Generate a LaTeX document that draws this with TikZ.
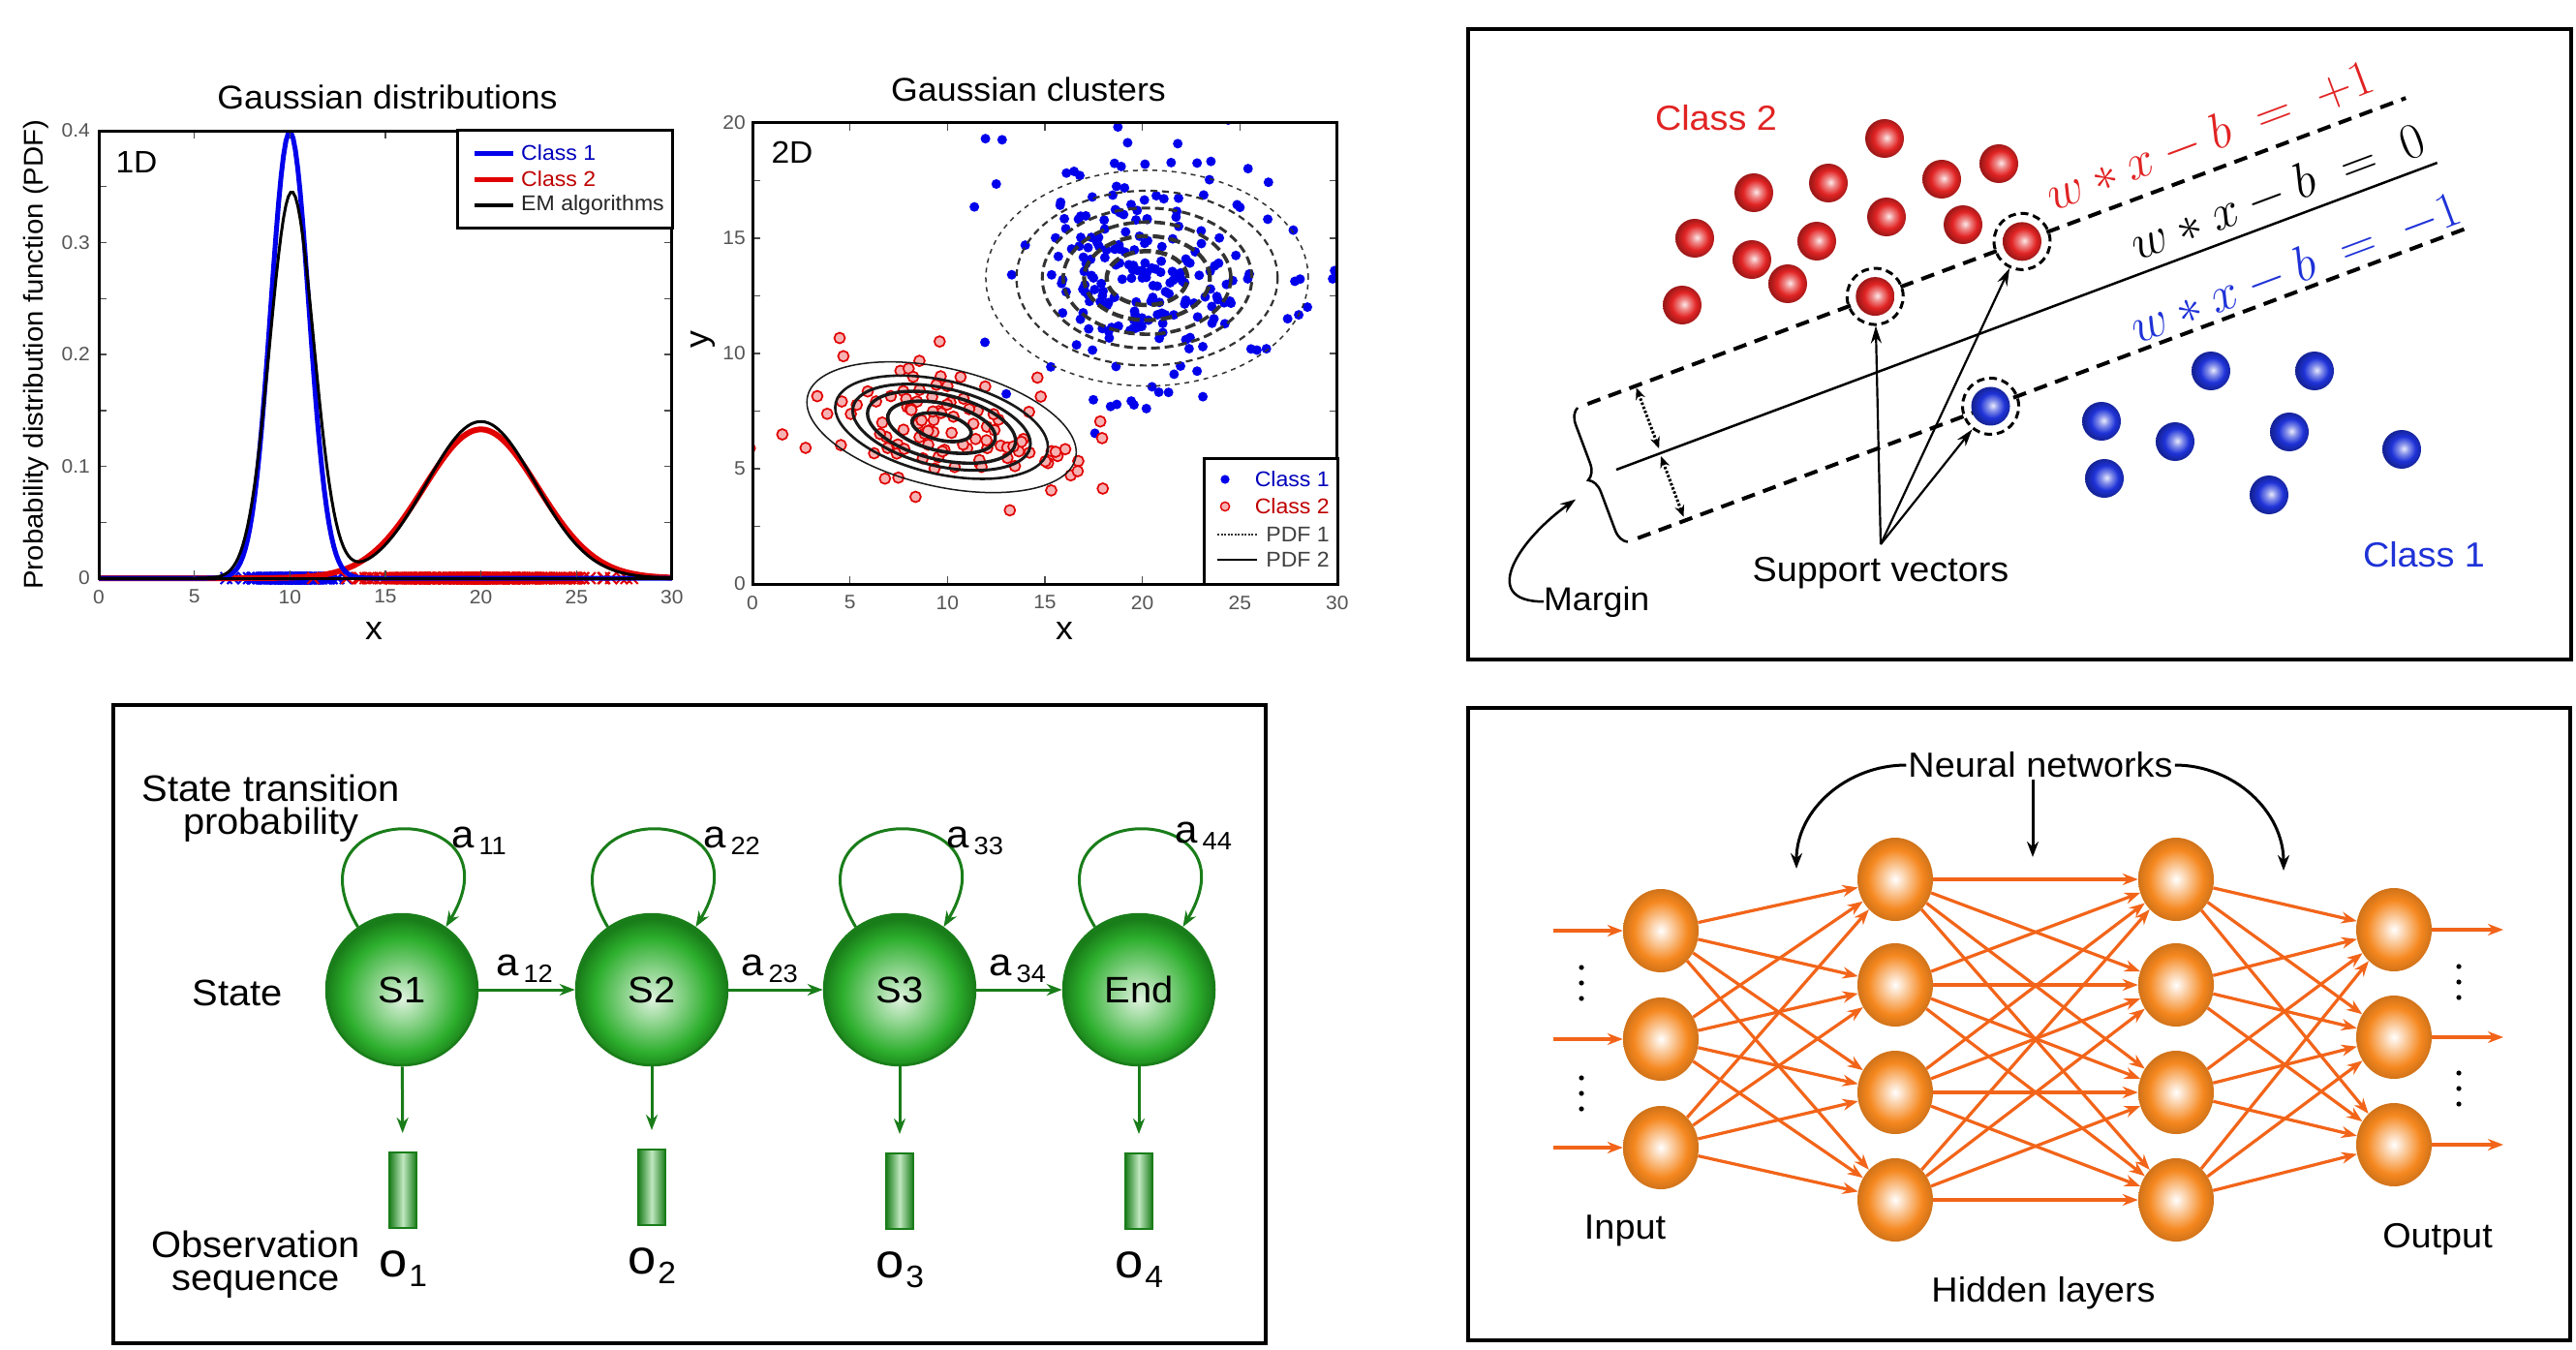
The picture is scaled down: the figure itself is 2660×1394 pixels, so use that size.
\RequirePackage{fix-cm}
\documentclass[tikz,border=0pt]{standalone}
\usepackage[no-math]{fontspec}
\setmainfont[FakeStretch=1.05]{Liberation Sans}
\usetikzlibrary{positioning,arrows.meta,shapes.geometric,decorations.pathreplacing}

\newcommand{\setfs}[1]{\fontsize{#1}{#1}\selectfont}
\newcommand{\hmmsub}[2]{#1\kern5pt\raisebox{-7pt}{\setfs{26}#2}}

\definecolor{plotblue}{RGB}{0,0,235}
\definecolor{plotred}{RGB}{225,0,0}
\definecolor{classred}{RGB}{225,35,35}
\definecolor{classblue}{RGB}{30,50,215}
\definecolor{statgreen}{RGB}{45,175,45}
\definecolor{statdark}{RGB}{25,125,25}
\definecolor{netorange}{RGB}{245,135,30}
\definecolor{netline}{RGB}{242,100,25}
\definecolor{ticktext}{RGB}{85,85,85}

\pgfdeclareradialshading{stateshade}{\pgfpoint{0bp}{-3bp}}{color(0bp)=(white!85!statgreen); color(9bp)=(statgreen!55!white); color(19bp)=(statgreen); color(25bp)=(statdark); color(50bp)=(statdark)}
\pgfdeclareradialshading{redshade}{\pgfpoint{3bp}{1bp}}{color(0bp)=(white!90!classred); color(7bp)=(classred!55!white); color(16bp)=(classred); color(25bp)=(classred!70!black); color(50bp)=(classred!70!black)}
\pgfdeclareradialshading{blueshade}{\pgfpoint{3bp}{1bp}}{color(0bp)=(white!90!classblue); color(7bp)=(classblue!55!white); color(16bp)=(classblue); color(25bp)=(classblue!70!black); color(50bp)=(classblue!70!black)}
\pgfdeclareradialshading{neuronshade}{\pgfpoint{0bp}{0bp}}{color(0bp)=(white); color(8bp)=(netorange!45!white); color(18bp)=(netorange); color(25bp)=(netorange!85!black); color(50bp)=(netorange!85!black)}

\tikzset{
  panelbox/.style={draw=black, line width=4.5pt},
  plotframe/.style={draw=black, line width=3pt},
  tickmark/.style={draw=black!70, line width=1.5pt},
  ticklab/.style={text=ticktext, font=\setfs{20}, inner sep=0pt},
  axlab/.style={font=\setfs{34}, inner sep=0pt},
  legtext/.style={font=\setfs{22}, inner sep=0pt},
  % svm
  svball/.style={circle, minimum size=40pt, inner sep=0pt},
  redball/.style={svball, shading=redshade},
  blueball/.style={svball, shading=blueshade},
  svring/.style={circle, draw=black, minimum size=58pt, inner sep=0pt, line width=3pt, dash pattern=on 8pt off 5pt},
  svmtext/.style={font=\setfs{36}, inner sep=0pt},
  svmeq/.style={font=\setfs{52}, inner sep=0pt, rotate=20.5, anchor=base},
  svmdash/.style={line width=4pt, dash pattern=on 14pt off 9pt},
  dotarrow/.style={line width=3pt, dash pattern=on 2.5pt off 2pt, {Stealth[length=12pt,width=10pt]}-{Stealth[length=12pt,width=10pt]}},
  svarrow/.style={line width=2.2pt, -{Stealth[length=18pt,width=11pt]}},
  % hmm
  state/.style={circle, minimum size=156pt, inner sep=0pt, shading=stateshade, draw=statdark, line width=2.5pt, font=\setfs{38}},
  obsbox/.style={rectangle, minimum width=28pt, minimum height=78pt, inner sep=0pt, draw=statdark, line width=2pt, left color=statdark, right color=statdark, middle color=statgreen!30!white},
  hmmedge/.style={draw=statdark, line width=3pt, -{Stealth[length=16pt,width=12pt]}},
  hmmlab/.style={font=\setfs{40}, inner sep=0pt, anchor=base west},
  hmmtext/.style={font=\fontsize{38}{34}\selectfont, inner sep=0pt, align=center},
  obslabel/.style={font=\setfs{50}, inner sep=0pt},
  % neural net
  neuron/.style={ellipse, minimum width=78pt, minimum height=86pt, inner sep=0pt, shading=neuronshade},
  nnedge/.style={draw=netline, line width=3.2pt, -{Stealth[length=16pt,width=12pt]}},
  nntext/.style={font=\setfs{36}, inner sep=2pt},
  bentarrow/.style={draw=black, line width=3pt, -{Stealth[length=16pt,width=12pt]}}
}

\begin{document}
\begin{tikzpicture}[x=1pt, y=1pt]
    \fill[white] (0,0) rectangle (2660,-1394);
    \useasboundingbox (0,0) rectangle (2660,-1394);

    % 1D Gaussian plot
    \node[axlab, anchor=base] (title1) at (400,-113) {Gaussian distributions};
    \node[font=\setfs{28}, inner sep=0pt, rotate=90] (ylab1) at (37,-366) {Probability distribution function (PDF)};
    \node[axlab] (xlab1) at (386,-652) {x};
    \begin{scope}[shift={(102,-597)}, x=19.73pt, y=1155pt]
        \pgfmathsetseed{42}
        \begin{scope}
            \clip (0,-0.05) rectangle (30,0.4);
            \foreach \k in {1,...,130} {
                \pgfmathsetmacro\gx{10+1.1*sqrt(-2*ln(max(rnd,0.003)))*cos(360*rnd)}
                \draw[plotblue, line width=2pt] (\gx,0) ++(-6pt,-6pt) -- ++(12pt,12pt) ++(-12pt,0pt) -- ++(12pt,-12pt);
            }
            \foreach \k in {1,...,260} {
                \pgfmathsetmacro\gx{20+2.8*sqrt(-2*ln(max(rnd,0.003)))*cos(360*rnd)}
                \draw[plotred, line width=2pt] (\gx,0) ++(-6pt,-6pt) -- ++(12pt,12pt) ++(-12pt,0pt) -- ++(12pt,-12pt);
            }
            \draw[plotred, line width=6pt] plot[domain=0:30, samples=200] (\x,{0.133*exp(max(-30,-((\x-20)*(\x-20))/18))});
            \draw[plotblue, line width=5pt] plot[domain=0:30, samples=240] (\x,{0.399*exp(max(-30,-((\x-10)*(\x-10))/2))});
            \draw[black, line width=3pt] plot[domain=0:30, samples=240] (\x,{0.345*exp(max(-30,-((\x-10.1)*(\x-10.1))/2.67))+0.14*exp(max(-30,-((\x-20)*(\x-20))/16.2))});
        \end{scope}
        \foreach \xx in {0,5,...,30} {
            \draw[tickmark] (\xx,0) -- ++(0,8pt);
            \draw[tickmark] (\xx,0.4) -- ++(0,-8pt);
            \node[ticklab, anchor=north, yshift=-12pt] at (\xx,0) {\xx};
        }
        \foreach \yy in {0.05,0.1,0.15,0.2,0.25,0.3,0.35} {
            \draw[tickmark] (0,\yy) -- ++(8pt,0);
            \draw[tickmark] (30,\yy) -- ++(-8pt,0);
        }
        \foreach \yy in {0,0.1,0.2,0.3,0.4}
            \node[ticklab, anchor=east, xshift=-9pt] at (0,\yy) {\yy};
        \draw[plotframe] (0,0) rectangle (30,0.4);
    \end{scope}
    \node[font=\setfs{32}, inner sep=0pt] (tag1) at (141,-167) {1D};
    % legend 1D
    \draw[plotframe, fill=white] (472,-135) rectangle (694,-235);
    \draw[plotblue, line width=5pt] (490,-158) -- (530,-158);
    \draw[plotred, line width=5pt] (490,-185) -- (530,-185);
    \draw[black, line width=3.5pt] (490,-212) -- (530,-212);
    \node[legtext, anchor=west, text=plotblue!80!black] (leg11) at (538,-158) {Class 1};
    \node[legtext, anchor=west, text=plotred!85!black] (leg12) at (538,-185) {Class 2};
    \node[legtext, anchor=west, text=black!85] (leg13) at (538,-212) {EM algorithms};

    % 2D Gaussian clusters
    \node[axlab, anchor=base] (title2) at (1062,-105) {Gaussian clusters};
    \node[axlab, rotate=90] (ylab2) at (726,-351) {y};
    \node[axlab] (xlab2) at (1099,-652) {x};
    \begin{scope}[shift={(777,-603)}, x=20.13pt, y=23.8pt]
        \begin{scope}
            \clip (0,0) rectangle (30,20);
            \foreach \k in {1,...,230} {
                \pgfmathsetmacro\rr{sqrt(-2*ln(max(rnd,0.003)))}
                \pgfmathsetmacro\aa{360*rnd}
                \fill[plotblue] ({20.2+3.3*\rr*cos(\aa)},{13.3+2.6*\rr*sin(\aa)}) circle[radius=5pt];
            }
            \foreach \k in {1,...,110} {
                \pgfmathsetmacro\rr{sqrt(-2*ln(max(rnd,0.003)))}
                \pgfmathsetmacro\aa{360*rnd}
                \pgfmathsetmacro\du{74*\rr*cos(\aa)}
                \pgfmathsetmacro\dv{36*\rr*sin(\aa)}
                \pgfmathsetmacro\qx{9.7+(\du*cos(-13)-\dv*sin(-13))/20.13}
                \pgfmathsetmacro\qy{6.8+(\du*sin(-13)+\dv*cos(-13))/23.8}
                \draw[plotred, fill=plotred!30, line width=1.7pt] (\qx,\qy) circle[radius=5.5pt];
            }
            \foreach \f/\w/\d in {1/1.5/5, 0.81/2.2/7, 0.65/3/9, 0.52/3.6/11, 0.39/4.2/12, 0.25/4.5/12} {
                \pgfmathsetmacro\rx{8.27*\f}
                \pgfmathsetmacro\ry{4.68*\f}
                \draw[black!80, line width=\w pt, dash pattern=on \d pt off 5pt] (20.24,13.27) ellipse [x radius=\rx, y radius=\ry];
            }
            \foreach \f/\w in {1/1.5, 0.79/2.6, 0.66/3, 0.55/3.4, 0.40/3.6, 0.22/3.6} {
                \pgfmathsetmacro\rx{142*\f}
                \pgfmathsetmacro\ry{61*\f}
                \draw[black!90, line width=\w pt, rotate around={-13:(9.7,6.8)}] (9.7,6.8) ellipse [x radius=\rx pt, y radius=\ry pt];
            }
        \end{scope}
        \foreach \xx in {0,5,...,30} {
            \draw[tickmark] (\xx,0) -- ++(0,8pt);
            \draw[tickmark] (\xx,20) -- ++(0,-8pt);
            \node[ticklab, anchor=north, yshift=-12pt] at (\xx,0) {\xx};
        }
        \foreach \yy in {2.5,5,...,17.5} {
            \draw[tickmark] (0,\yy) -- ++(8pt,0);
            \draw[tickmark] (30,\yy) -- ++(-8pt,0);
        }
        \foreach \yy in {0,5,...,20}
            \node[ticklab, anchor=east, xshift=-7pt] at (0,\yy) {\yy};
        \draw[plotframe] (0,0) rectangle (30,20);
    \end{scope}
    \node[font=\setfs{32}, inner sep=0pt] (tag2) at (818,-157) {2D};
    % legend 2D
    \draw[plotframe, fill=white] (1243,-473) rectangle (1381,-603);
    \fill[plotblue] (1265,-495) circle[radius=4.6pt];
    \draw[plotred, fill=plotred!30, line width=1.4pt] (1265,-523) circle[radius=4.6pt];
    \draw[black!80, line width=1.5pt, dash pattern=on 2pt off 1.5pt] (1257,-552) -- (1298,-552);
    \draw[black, line width=2.5pt] (1257,-578) -- (1298,-578);
    \node[legtext, anchor=east, text=plotblue!80!black] (leg21) at (1373,-495) {Class 1};
    \node[legtext, anchor=east, text=plotred!85!black] (leg22) at (1373,-523) {Class 2};
    \node[legtext, anchor=east, text=black!75] (leg23) at (1373,-552) {PDF 1};
    \node[legtext, anchor=east, text=black!75] (leg24) at (1373,-578) {PDF 2};

    % SVM panel
    \draw[panelbox] (1516,-30) rectangle (2655,-681);
    \foreach \p [count=\i] in {(1946,-143), (2064,-169), (1888,-189), (2005,-185), (1811,-199), (1948,-224), (2027,-232), (1750,-246), (1876,-249), (1809,-268), (1846,-293), (1737,-315)}
        \node[redball] (r\i) at \p {};
    \foreach \p [count=\i] in {(2283,-383), (2390,-383), (2170,-435), (2246,-456), (2364,-446), (2480,-464), (2173,-494), (2343,-511)}
        \node[blueball] (b\i) at \p {};
    \begin{scope}[shift={(1669,-485)}, rotate=20.5]
        % separating line and margins
        \draw[line width=2.5pt] (0,0) -- (905,0);
        \draw[svmdash] (-4,74) -- (898,74);
        \draw[svmdash] (-4,-74) -- (907,-74);
        \draw[decorate, decoration={brace, amplitude=16pt}, line width=2.5pt] (-15,-74) -- (-15,74);
        \coordinate (margintip) at (-50,-14);
        \draw[dotarrow] (49,72) -- (49,5);
        \draw[dotarrow] (48,-3) -- (48,-70);
        % support vectors
        \node[redball] (sv1) at (313,74) {};
        \node[redball] (sv2) at (475,74) {};
        \node[blueball] (sv3) at (385,-74) {};
        \node[svmeq, text=classred] (eqplus) at (695,92) {$w*x-b \;=\; {+}1$};
        \node[svmeq, text=black] (eqzero) at (740,13) {$w*x-b \;=\; 0$};
        \node[svmeq, text=classblue] (eqminus) at (730,-67) {$w*x-b \;=\; {-}1$};
    \end{scope}
    \node[svring] (ring1) at (sv1) {};
    \node[svring] (ring2) at (sv2) {};
    \node[svring] (ring3) at (sv3) {};
    \node[svmtext, text=classred] (class2) at (1772,-122) {Class 2};
    \node[svmtext, text=classblue] (class1) at (2503,-573) {Class 1};
    \node[svmtext, anchor=base] (svtext) at (1942,-600) {Support vectors};
    \coordinate (svtip) at (1942,-562);
    \draw[svarrow] (svtip) -- (ring1);
    \draw[svarrow] (svtip) -- (ring2);
    \draw[svarrow] (svtip) -- (ring3);
    \node[svmtext, font=\setfs{34}, anchor=base west] (margin) at (1594,-630) {Margin};
    \draw[line width=2.5pt, -{Stealth[length=16pt,width=11pt]}] (margin.west) to[out=180, in=215, looseness=1.6] (margintip);

    % Hidden Markov model
    \draw[panelbox] (117,-728) rectangle (1307,-1387);
    \node[state] (s1) at (415,-1022) {S1};
    \node[state] (s2) at (673,-1022) {S2};
    \node[state] (s3) at (929,-1022) {S3};
    \node[state] (s4) at (1176,-1022) {End};
    \foreach \i/\x/\yo in {1/416/1229, 2/673/1226, 3/929/1230, 4/1176/1230}
        \node[obsbox] (o\i) at (\x,-\yo) {};
    \foreach \i in {1,...,4} {
        \draw[hmmedge] (s\i.125) .. controls +(121:156) and +(59:156) .. (s\i.55);
        \draw[hmmedge, shorten >=19pt] (s\i) -- (o\i);
        \node[obslabel, below=22pt of o\i] (ol\i) {o\kern2pt\raisebox{-10pt}{\setfs{32}\i}};
    }
    \draw[hmmedge] (s1) -- (s2);
    \draw[hmmedge] (s2) -- (s3);
    \draw[hmmedge] (s3) -- (s4);
    \node[hmmlab] (a11) at (466,-875) {\hmmsub{a}{11}};
    \node[hmmlab] (a22) at (726,-875) {\hmmsub{a}{22}};
    \node[hmmlab] (a33) at (977,-875) {\hmmsub{a}{33}};
    \node[hmmlab] (a44) at (1213,-870) {\hmmsub{a}{44}};
    \node[hmmlab] (a12) at (512,-1007) {\hmmsub{a}{12}};
    \node[hmmlab] (a23) at (765,-1007) {\hmmsub{a}{23}};
    \node[hmmlab] (a34) at (1021,-1007) {\hmmsub{a}{34}};
    \node[hmmtext] (stp) at (280,-835) {State transition\\probability};
    \node[hmmtext] (statelab) at (245,-1025) {State};
    \node[hmmtext] (obslab) at (264,-1306) {Observation\\sequence};

    % Neural network
    \draw[panelbox] (1516,-731) rectangle (2654,-1384);
    \foreach \i/\y in {1/961, 2/1073, 3/1185} {
        \node[neuron] (in\i) at (1715,-\y) {};
        \coordinate (inl\i) at (1604,-\y);
    }
    \foreach \i/\y in {1/908, 2/1017, 3/1128, 4/1239} {
        \node[neuron] (ha\i) at (1957,-\y) {};
        \node[neuron] (hb\i) at (2247,-\y) {};
    }
    \foreach \i/\y in {1/960, 2/1071, 3/1182} {
        \node[neuron] (out\i) at (2472,-\y) {};
        \coordinate (outr\i) at (2585,-\y);
    }
    \foreach \i in {1,2,3} {
        \draw[nnedge] (inl\i) -- (in\i);
        \draw[nnedge] (out\i) -- (outr\i);
        \foreach \j in {1,...,4} {
            \draw[nnedge] (in\i) -- (ha\j);
            \draw[nnedge] (hb\j) -- (out\i);
        }
    }
    \foreach \i in {1,...,4}
        \foreach \j in {1,...,4}
            \draw[nnedge] (ha\i) -- (hb\j);
    % vertical dots
    \foreach \x/\y in {1633/1015, 1633/1129, 2539/1014, 2539/1124}
        \foreach \d in {-16,0,16}
            \fill (\x,-\y+\d) circle[radius=2.6pt];
    \node[nntext] (nntitle) at (2107,-790) {Neural networks};
    \coordinate (nnl) at (1855,-897);
    \coordinate (nnm) at (2099,-885);
    \coordinate (nnr) at (2358,-899);
    \draw[bentarrow] (nntitle.west) to[out=180, in=90] (nnl);
    \draw[bentarrow] (nntitle.south -| nnm) -- (nnm);
    \draw[bentarrow] (nntitle.east) to[out=0, in=90] (nnr);
    \node[nntext] (inputlab) at (1678,-1271) {Input};
    \node[nntext] (outputlab) at (2517,-1280) {Output};
    \node[nntext] (hiddenlab) at (2110,-1335) {Hidden layers};
\end{tikzpicture}
\end{document}
